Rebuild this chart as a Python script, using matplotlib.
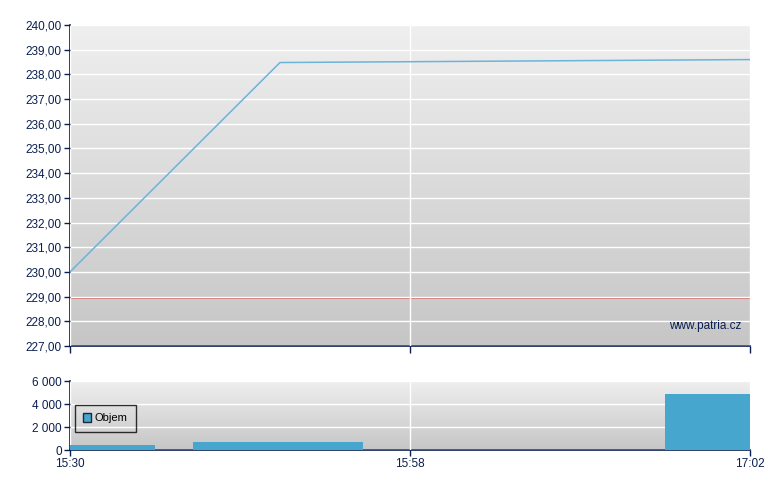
import numpy as np
import matplotlib.pyplot as plt
from matplotlib.ticker import FuncFormatter

plt.rcParams['font.family'] = ['Liberation Sans', 'DejaVu Sans']

# price series (x = position on the trade axis, 0..8)
price_x = [0, 2.47, 8]
price_y = [230.0, 238.48, 238.6]
prev_close = 228.95

# volume bars: left edge, right edge, volume
vol_left = [0, 1.45, 7]
vol_right = [1, 3.45, 8]
vol_vals = [450, 720, 4850]

tick_pos = [0, 4, 8]
tick_labels = ["15:30", "15:58", "17:02"]

navy = "#0a1f4f"
fig = plt.figure(figsize=(7.8, 4.9), dpi=100)
ax1 = fig.add_axes([70/780, 144/490, 680/780, 321/490])
ax2 = fig.add_axes([70/780, 40/490, 680/780, 69/490])


def gradient(ax):
    g = np.linspace(0, 1, 256).reshape(-1, 1)
    ax.imshow(g, cmap=plt.matplotlib.colors.LinearSegmentedColormap.from_list(
        "bg", ["#efefef", "#c6c6c6"]), aspect="auto",
        extent=[0, 1, 0, 1], transform=ax.transAxes, zorder=0)


for ax in (ax1, ax2):
    gradient(ax)
    ax.set_xlim(0, 8)
    ax.set_xticks(tick_pos)
    for s in ("top", "right"):
        ax.spines[s].set_visible(False)
    for s in ("left", "bottom"):
        ax.spines[s].set_color(navy)
        ax.spines[s].set_linewidth(1.2)
    ax.tick_params(colors=navy, labelsize=8.5, length=4, width=1, labelcolor=navy, pad=2)
    ax.grid(True, color="white", linewidth=1, zorder=1)
    ax.set_axisbelow(False)

# top panel
ax1.set_ylim(227, 240)
ax1.set_yticks(np.arange(227, 241, 1))
ax1.yaxis.set_major_formatter(FuncFormatter(lambda v, p: f"{v:.2f}".replace(".", ",")))
ax1.set_xticklabels([])
ax1.plot(price_x, price_y, color="#6ab4da", linewidth=1.1, zorder=3)
ax1.axhline(prev_close, color="#d06868", linewidth=1.4, zorder=2)
ax1.text(0.988, 0.062, "www.patria.cz", transform=ax1.transAxes, ha="right",
         va="center", fontsize=8.5, color=navy, zorder=4)
ax1.tick_params(axis="x", length=5)

# bottom panel
ax2.set_ylim(0, 6000)
ax2.set_yticks([0, 2000, 4000, 6000])
ax2.yaxis.set_major_formatter(FuncFormatter(lambda v, p: f"{int(v):,}".replace(",", " ")))
ax2.set_xticklabels(tick_labels)
widths = np.array(vol_right) - np.array(vol_left)
ax2.bar(vol_left, vol_vals, width=widths, align="edge", color="#46a6ce",
        label="Objem", zorder=3)
leg = ax2.legend(loc="upper left", bbox_to_anchor=(0.007, 0.652), fontsize=8,
                 frameon=True, fancybox=False, handlelength=0.75, handleheight=0.75,
                 borderpad=0.75, handletextpad=0.3, borderaxespad=0)
leg.get_frame().set_edgecolor("black")
leg.get_frame().set_facecolor("none")
leg.get_frame().set_linewidth(1)
for h in leg.legend_handles:
    h.set_edgecolor("#1a2a3a")
    h.set_linewidth(1)

fig.savefig("out.png", dpi=100)
